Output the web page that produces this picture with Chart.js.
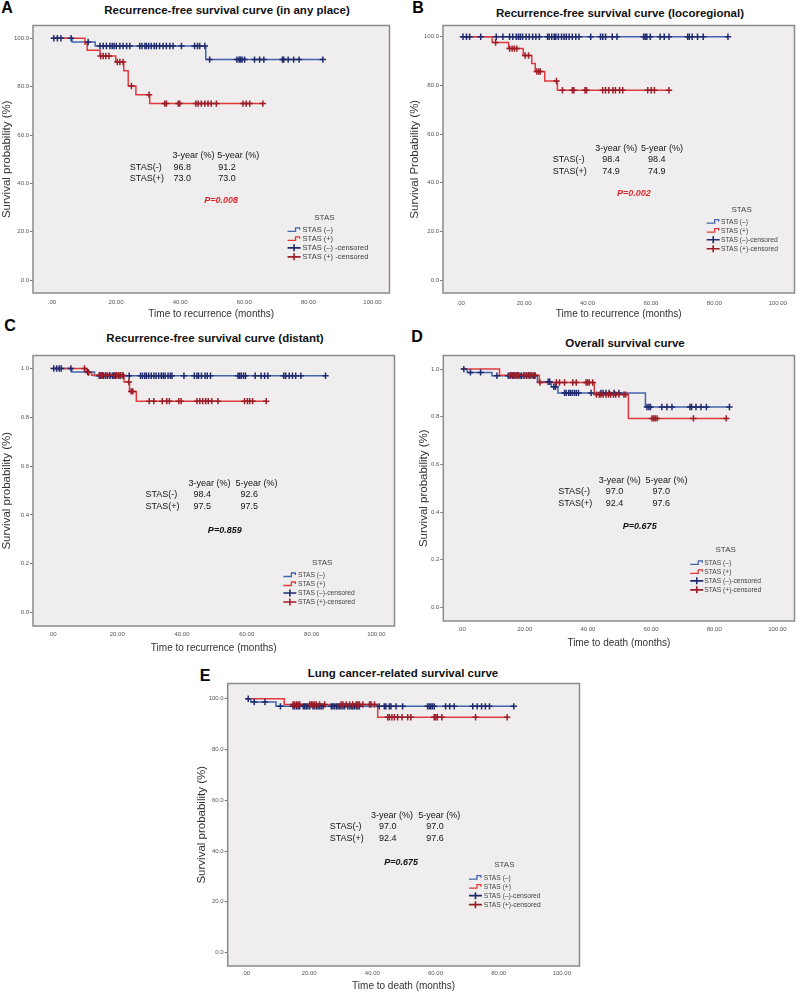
<!DOCTYPE html>
<html><head><meta charset="utf-8">
<script src="https://cdn.jsdelivr.net/npm/chart.js@4.4.1/dist/chart.umd.min.js"></script>
<style>
html,body{margin:0;padding:0;background:#fff;}
body{width:800px;height:992px;position:relative;overflow:hidden;font-family:"Liberation Sans",Arial,sans-serif;}
canvas{position:absolute;}
.ttl{position:absolute;font-weight:bold;font-size:11.5px;white-space:nowrap;transform:translate(-50%,-50%);color:#111;}
.lbl{position:absolute;font-weight:bold;font-size:16px;transform:translate(-50%,-50%);color:#000;}
</style></head><body>
<div class="lbl" style="left:7px;top:8px">A</div>
<div class="ttl" style="left:227px;top:10px">Recurrence-free survival curve (in any place)</div>
<div class="lbl" style="left:418px;top:8px">B</div>
<div class="ttl" style="left:620px;top:13px">Recurrence-free survival curve (locoregional)</div>
<div class="lbl" style="left:10px;top:326px">C</div>
<div class="ttl" style="left:215px;top:338px">Recurrence-free survival curve (distant)</div>
<div class="lbl" style="left:417px;top:337px">D</div>
<div class="ttl" style="left:625px;top:343px">Overall survival curve</div>
<div class="lbl" style="left:205px;top:676px">E</div>
<div class="ttl" style="left:403px;top:673px">Lung cancer-related survival curve</div>
<canvas id="cA" width="395" height="300" style="left:0;top:20px"></canvas>
<canvas id="cB" width="400" height="300" style="left:400px;top:20px"></canvas>
<canvas id="cC" width="400" height="305" style="left:0;top:350px"></canvas>
<canvas id="cD" width="400" height="300" style="left:400px;top:350px"></canvas>
<canvas id="cE" width="391" height="314" style="left:194px;top:678px"></canvas>
<script>
// ---------- tick values ----------
const xTicks = [0, 20, 40, 60, 80, 100];
const yTicksPct = [0, 20, 40, 60, 80, 100];
const yTicksProp = [0, 0.2, 0.4, 0.6, 0.8, 1.0];

// ---------- Panel A: recurrence-free (any place) ----------
const aNegTimes = [0, 6.3, 13.5, 48.0];
const aNegSurv = [100, 98.5, 96.8, 91.2];
const aNegCens = [0.6,1.7,2.8,6.0,11.3,15.0,16.0,17.0,18.1,18.8,19.4,20.1,21.2,22.2,23.3,24.3,27.4,28.1,29.0,29.5,30.2,31.0,31.9,32.6,33.6,34.7,35.7,36.8,37.8,40.4,44.5,45.4,46.1,47.7,49.2,57.7,58.4,58.8,59.3,60.1,63.2,64.8,66.1,71.9,72.3,73.7,75.4,77.1,84.5];
const aPosTimes = [0, 10.3, 11.0, 15.0, 19.9, 22.4, 23.8, 26.2, 30.5];
const aPosSurv = [100, 97.6, 95.1, 92.7, 90.2, 86.6, 80.3, 76.7, 73.0];
const aPosCens = [15.2,16.0,16.8,17.8,20.4,21.2,22.2,24.8,30.3,35.2,35.7,39.4,39.9,44.9,45.6,46.6,47.7,48.7,49.7,51.3,59.6,60.6,61.7,65.8];
const aRateNeg = [96.8, 91.2];
const aRatePos = [73.0, 73.0];
const aP = '0.008';

// ---------- Panel B: recurrence-free (locoregional) ----------
const bNegTimes = [0];
const bNegSurv = [100];
const bNegCens = [0.7,1.8,2.8,6.3,11.2,13.3,15.4,16.4,17.5,18.2,18.8,19.5,20.6,21.6,22.7,23.7,24.8,27.4,27.9,28.7,29.5,30.0,30.8,31.8,32.6,33.3,34.2,35.2,36.3,37.3,41.0,44.1,44.8,45.7,47.8,49.3,57.7,58.2,58.7,59.8,62.9,64.2,65.7,71.6,72.1,73.0,74.7,76.5,84.3];
const bPosTimes = [0, 9.9, 15.1, 19.7, 22.4, 23.5, 26.5, 30.5];
const bPosSurv = [100, 97.6, 95.1, 92.3, 89.0, 85.7, 81.8, 78.0];
const bPosCens = [11.0,15.4,16.2,16.9,17.7,20.3,21.4,24.0,24.6,25.1,30.2,32.1,35.2,35.7,39.2,39.7,44.8,45.7,46.7,48.0,48.8,50.1,51.1,59.0,60.1,61.1,65.7];
const bRateNeg = [98.4, 98.4];
const bRatePos = [74.9, 74.9];
const bP = '0.002';

// ---------- Panel C: recurrence-free (distant) ----------
const cNegTimes = [0, 6.0, 13.0];
const cNegSurv = [1.0, 0.985, 0.970];
const cNegCens = [0.4,1.3,2.1,2.7,5.7,10.9,14.5,15.0,15.7,16.3,17.0,17.8,18.5,19.0,19.5,20.4,20.9,21.8,23.7,27.2,27.8,28.5,29.0,29.7,30.5,31.3,32.0,32.8,33.6,34.2,34.8,35.7,36.4,36.9,40.6,43.8,44.6,45.1,46.0,47.1,47.8,48.8,57.3,57.8,58.3,59.0,59.6,62.6,64.4,65.5,66.5,71.4,72.0,73.1,74.1,75.1,76.7,84.3];
const cPosTimes = [0, 10.4, 12.1, 22.1, 23.8, 25.9];
const cPosSurv = [1.0, 0.983, 0.972, 0.944, 0.906, 0.866];
const cPosCens = [9.9,11.2,14.5,15.0,15.5,16.5,17.6,19.0,19.8,20.4,21.1,21.8,23.6,24.3,24.8,29.9,31.3,33.9,35.3,36.1,39.0,39.7,44.6,45.5,46.4,47.3,48.1,49.2,51.1,59.3,60.2,60.9,61.8,66.0];
const cRateNeg = [98.4, 92.6];
const cRatePos = [97.5, 97.5];
const cP = '0.859';

// ---------- Panel D: overall survival ----------
const dNegTimes = [0, 1.8, 9.6, 24.0, 28.4, 30.5, 58.2];
const dNegSurv = [1.0, 0.986, 0.972, 0.947, 0.926, 0.900, 0.841];
const dNegCens = [0.7,2.8,6.0,11.2,14.8,15.4,16.2,16.9,17.7,18.5,19.0,19.7,20.6,21.6,22.7,23.2,27.4,27.9,29.2,29.7,32.6,33.1,33.9,34.4,35.0,35.7,36.3,37.0,41.0,44.1,44.8,45.7,46.7,48.3,49.8,58.7,59.3,59.8,63.4,65.0,66.6,72.3,72.8,74.2,75.8,77.5,84.8];
const dPosTimes = [0, 12.0, 24.6, 42.0, 52.8];
const dPosSurv = [1.0, 0.974, 0.944, 0.893, 0.793];
const dPosCens = [15.4,15.9,16.4,16.9,17.5,18.0,19.7,20.4,21.1,21.6,22.2,23.2,24.8,30.0,31.0,32.6,35.2,36.3,39.4,39.9,40.4,41.5,42.7,43.6,44.1,44.8,45.7,46.5,47.2,48.1,48.8,49.8,51.4,51.9,60.3,60.8,61.3,61.9,73.4,83.8];
const dRateNeg = [97.0, 97.0];
const dRatePos = [92.4, 97.6];
const dP = '0.675';

// ---------- Panel E: lung cancer-related survival ----------
const eNegTimes = [0, 1.5, 9.5];
const eNegSurv = [100, 98.7, 97.0];
const eNegCens = [0.7,2.6,6.0,10.9,14.9,15.4,16.0,16.5,17.0,18.1,18.6,19.1,19.6,20.2,21.2,21.7,22.3,22.8,23.3,23.8,24.4,27.0,27.5,28.0,28.6,29.1,29.6,30.1,30.7,31.2,32.2,32.8,33.3,33.8,34.3,34.9,35.4,35.9,42.2,43.8,44.3,45.4,45.9,47.5,49.6,57.5,58.0,58.5,59.0,59.6,63.2,64.5,65.9,71.8,73.2,74.6,75.8,77.1,84.8];
const ePosTimes = [0, 12.1, 41.7];
const ePosSurv = [100, 97.7, 92.7];
const ePosCens = [14.9,15.4,16.0,16.5,17.0,20.2,20.7,21.2,21.7,22.3,23.3,24.9,30.1,30.7,31.7,32.8,33.8,34.9,35.4,35.9,37.0,39.1,39.6,40.7,44.9,45.4,46.2,47.0,48.0,49.4,51.2,52.2,59.6,60.1,60.6,62.0,72.7,82.7];
const eRateNeg = [97.0, 97.0];
const eRatePos = [92.4, 97.6];
const eP = '0.675';

const tableHeaders = ['3-year (%)', '5-year (%)'];
const rowLabels = ['STAS(-)', 'STAS(+)'];
const legendA = ['STAS (\u2013)', 'STAS (+)', 'STAS (\u2013) -censored', 'STAS (+) -censored'];
const legendStd = ['STAS (\u2013)', 'STAS (+)', 'STAS (\u2013)-censored', 'STAS (+)-censored'];

// ---------- styling ----------
const FONT = '"Liberation Sans", Arial, sans-serif';
Chart.defaults.font.family = FONT;
const BLUE_LINE = '#4464ae', BLUE_MARK = '#1f2b6e', RED_LINE = '#e03a3c', RED_MARK = '#9c1d28';

function survAt(times, surv, t) {
  let s = surv[0];
  for (let i = 0; i < times.length; i++) if (times[i] <= t) s = surv[i];
  return s;
}
function kmLine(times, surv, cens) {
  const pts = times.map((t, i) => ({x: t, y: surv[i]}));
  const end = Math.max(times[times.length - 1], ...cens);
  pts.push({x: end, y: surv[surv.length - 1]});
  return pts;
}
function kmCens(times, surv, cens) {
  return cens.map(t => ({x: t, y: survAt(times, surv, t)}));
}

const decor = {};
const kmDecor = {
  id: 'kmDecor',
  beforeDraw(chart) {
    const {ctx, chartArea: a} = chart;
    ctx.save(); ctx.fillStyle = '#efeded'; ctx.fillRect(a.left, a.top, a.width, a.height); ctx.restore();
  },
  afterDraw(chart) {
    const o = decor[chart.canvas.id];
    const {ctx, chartArea: a, scales: {x, y}} = chart;
    ctx.save();
    ctx.strokeStyle = '#8a8a8a'; ctx.lineWidth = 1.5;
    ctx.strokeRect(a.left, a.top, a.width, a.height);
    // survival table
    ctx.fillStyle = '#151515'; ctx.font = '9px ' + FONT; ctx.textBaseline = 'middle'; ctx.textAlign = 'left';
    const ty = y.getPixelForValue(o.tab.y);
    const lx = x.getPixelForValue(o.tab.x), c1 = x.getPixelForValue(o.tab.c1), c2 = x.getPixelForValue(o.tab.c2);
    ctx.fillText(tableHeaders[0], c1, ty); ctx.fillText(tableHeaders[1], c2, ty);
    [o.neg, o.pos].forEach((vals, i) => {
      const yy = ty + (i + 1) * 11.3;
      ctx.fillText(rowLabels[i], lx, yy);
      ctx.fillText(vals[0].toFixed(1), c1 + o.tab.indent, yy);
      ctx.fillText(vals[1].toFixed(1), c2 + o.tab.indent, yy);
    });
    // p value
    ctx.font = 'italic bold 9px ' + FONT; ctx.fillStyle = o.pColor; ctx.textAlign = 'center';
    ctx.fillText('P=' + o.p, x.getPixelForValue(o.pPos[0]), y.getPixelForValue(o.pPos[1]));
    // legend
    const L = o.leg;
    ctx.fillStyle = '#444'; ctx.font = '8px ' + FONT;
    ctx.fillText('STAS', x.getPixelForValue(L.title[0]), y.getPixelForValue(L.title[1]));
    ctx.textAlign = 'left'; ctx.font = L.size + 'px ' + FONT;
    const ix = x.getPixelForValue(L.icon), txx = x.getPixelForValue(L.text), y0 = y.getPixelForValue(L.row1);
    const cols = [BLUE_LINE, RED_LINE, BLUE_MARK, RED_MARK];
    for (let i = 0; i < 4; i++) {
      const yy = y0 + i * 9;
      ctx.strokeStyle = cols[i];
      ctx.beginPath();
      if (i < 2) {
        ctx.lineWidth = 1.3;
        ctx.moveTo(ix, yy + 1.5); ctx.lineTo(ix + 8, yy + 1.5); ctx.lineTo(ix + 8, yy - 2);
        ctx.lineTo(ix + 12, yy - 2); ctx.lineTo(ix + 12, yy);
      } else {
        ctx.lineWidth = 1.6;
        ctx.moveTo(ix, yy); ctx.lineTo(ix + 13, yy);
        ctx.moveTo(ix + 6.5, yy - 3.5); ctx.lineTo(ix + 6.5, yy + 3.5);
      }
      ctx.stroke();
      ctx.fillStyle = '#444';
      ctx.fillText(o.legend[i], txx, yy);
    }
    ctx.restore();
  }
};

function makePanel(p) {
  decor[p.id] = p.decor;
  const ds = [
    {data: kmCens(p.posT, p.posS, p.posC), showLine: false, pointStyle: 'cross', pointRadius: 3.2, pointBorderWidth: 1.5, borderColor: RED_MARK, backgroundColor: RED_MARK},
    {data: kmCens(p.negT, p.negS, p.negC), showLine: false, pointStyle: 'cross', pointRadius: 3.2, pointBorderWidth: 1.5, borderColor: BLUE_MARK, backgroundColor: BLUE_MARK},
    {data: kmLine(p.posT, p.posS, p.posC), stepped: 'before', borderColor: RED_LINE, borderWidth: 1.5, pointRadius: 0, fill: false},
    {data: kmLine(p.negT, p.negS, p.negC), stepped: 'before', borderColor: BLUE_LINE, borderWidth: 1.5, pointRadius: 0, fill: false}
  ];
  new Chart(document.getElementById(p.id), {
    type: 'line',
    data: {datasets: ds},
    plugins: [kmDecor],
    options: {
      responsive: false, animation: false, devicePixelRatio: 1, events: [],
      layout: {padding: p.pad},
      plugins: {legend: {display: false}, tooltip: {enabled: false}, title: {display: false}},
      scales: {
        x: {
          type: 'linear', min: p.xr[0], max: p.xr[1],
          afterFit(s) { s.height = p.xH; },
          afterBuildTicks(s) { s.ticks = xTicks.map(v => ({value: v})); },
          grid: {display: false, drawTicks: false}, border: {display: false},
          ticks: {padding: p.xTickPad, font: {size: 6}, color: '#555', maxRotation: 0, autoSkip: false,
                  callback: v => v === 0 ? '.00' : v.toFixed(2)},
          title: {display: true, text: p.xTitle, font: {size: 10}, color: '#333', padding: {top: 0, bottom: p.xTitlePad}}
        },
        y: {
          type: 'linear', min: p.yr[0], max: p.yr[1],
          afterFit(s) { s.width = p.yW; },
          afterBuildTicks(s) { s.ticks = p.yTicks.map(v => ({value: v})); },
          grid: {display: true, drawOnChartArea: false, drawTicks: true, tickLength: 3, color: '#777'},
          border: {display: false},
          ticks: {padding: 1, font: {size: 6}, color: '#555', callback: v => v.toFixed(1)},
          title: {display: true, text: p.yTitle, font: {size: 11.5}, color: '#333', padding: {top: p.yTitlePad, bottom: 0}}
        }
      }
    }
  });
}

makePanel({id: 'cA', pad: {top: 2, right: 5, left: 0, bottom: 0}, yW: 33, xH: 27, xTickPad: 6, xTitlePad: 0, yTitlePad: 0,
  xr: [-5.9, 105.3], yr: [-5.3, 105.3], yTicks: yTicksPct,
  xTitle: 'Time to recurrence (months)', yTitle: 'Survival probability (%)',
  negT: aNegTimes, negS: aNegSurv, negC: aNegCens, posT: aPosTimes, posS: aPosSurv, posC: aPosCens,
  decor: {neg: aRateNeg, pos: aRatePos, p: aP, pColor: '#e0262b', legend: legendA,
    tab: {x: 24.3, y: 51.4, c1: 37.6, c2: 51.6, indent: 1}, pPos: [52.8, 33.1],
    leg: {title: [85.0, 25.8], row1: 20.8, icon: 73.5, text: 78.2, size: 7.5}}});

makePanel({id: 'cB', pad: {top: 2, right: 3, left: 0, bottom: 0}, yW: 43, xH: 27, xTickPad: 7, xTitlePad: 0, yTitlePad: 8,
  xr: [-5.6, 105.3], yr: [-5.3, 104.6], yTicks: yTicksPct,
  xTitle: 'Time to recurrence (months)', yTitle: 'Survival Probability (%)',
  negT: bNegTimes, negS: bNegSurv, negC: bNegCens, posT: bPosTimes, posS: bPosSurv, posC: bPosCens,
  decor: {neg: bRateNeg, pos: bRatePos, p: bP, pColor: '#e0262b', legend: legendStd,
    tab: {x: 29.0, y: 54.0, c1: 42.4, c2: 56.9, indent: 7}, pPos: [54.6, 35.5],
    leg: {title: [88.6, 28.7], row1: 24.0, icon: 77.6, text: 82.1, size: 6.7}}});

makePanel({id: 'cC', pad: {top: 2, right: 2, left: 0, bottom: 0}, yW: 33, xH: 29, xTickPad: 5, xTitlePad: 1, yTitlePad: 0,
  xr: [-6.0, 105.6], yr: [-0.055, 1.053], yTicks: yTicksProp,
  xTitle: 'Time to recurrence (months)', yTitle: 'Survival probability (%)',
  negT: cNegTimes, negS: cNegSurv, negC: cNegCens, posT: cPosTimes, posS: cPosSurv, posC: cPosCens,
  decor: {neg: cRateNeg, pos: cRatePos, p: cP, pColor: '#111', legend: legendStd,
    tab: {x: 28.7, y: 0.528, c1: 42.0, c2: 56.5, indent: 5}, pPos: [53.2, 0.337],
    leg: {title: [83.3, 0.202], row1: 0.154, icon: 71.3, text: 75.8, size: 6.7}}});

makePanel({id: 'cD', pad: {top: 3, right: 2, left: 0, bottom: 0}, yW: 43.3, xH: 29, xTickPad: 5, xTitlePad: 1, yTitlePad: 17,
  xr: [-5.8, 105.4], yr: [-0.057, 1.057], yTicks: yTicksProp,
  xTitle: 'Time to death (months)', yTitle: 'Survival probability (%)',
  negT: dNegTimes, negS: dNegSurv, negC: dNegCens, posT: dPosTimes, posS: dPosSurv, posC: dPosCens,
  decor: {neg: dRateNeg, pos: dRatePos, p: dP, pColor: '#111', legend: legendStd,
    tab: {x: 30.6, y: 0.532, c1: 43.4, c2: 58.2, indent: 7}, pPos: [56.4, 0.339],
    leg: {title: [83.6, 0.241], row1: 0.187, icon: 72.4, text: 76.8, size: 6.7}}});

makePanel({id: 'cE', pad: {top: 2.7, right: 4, left: 0, bottom: 0}, yW: 33.7, xH: 26, xTickPad: 4, xTitlePad: 0, yTitlePad: 1,
  xr: [-5.8, 105.6], yr: [-5.3, 106.0], yTicks: yTicksPct,
  xTitle: 'Time to death (months)', yTitle: 'Survival probability (%)',
  negT: eNegTimes, negS: eNegSurv, negC: eNegCens, posT: ePosTimes, posS: ePosSurv, posC: ePosCens,
  decor: {neg: eRateNeg, pos: eRatePos, p: eP, pColor: '#111', legend: legendStd,
    tab: {x: 26.5, y: 54.0, c1: 39.6, c2: 54.5, indent: 8}, pPos: [49.1, 35.6],
    leg: {title: [81.8, 34.5], row1: 29.5, icon: 70.6, text: 75.3, size: 6.7}}});
</script>
</body></html>
